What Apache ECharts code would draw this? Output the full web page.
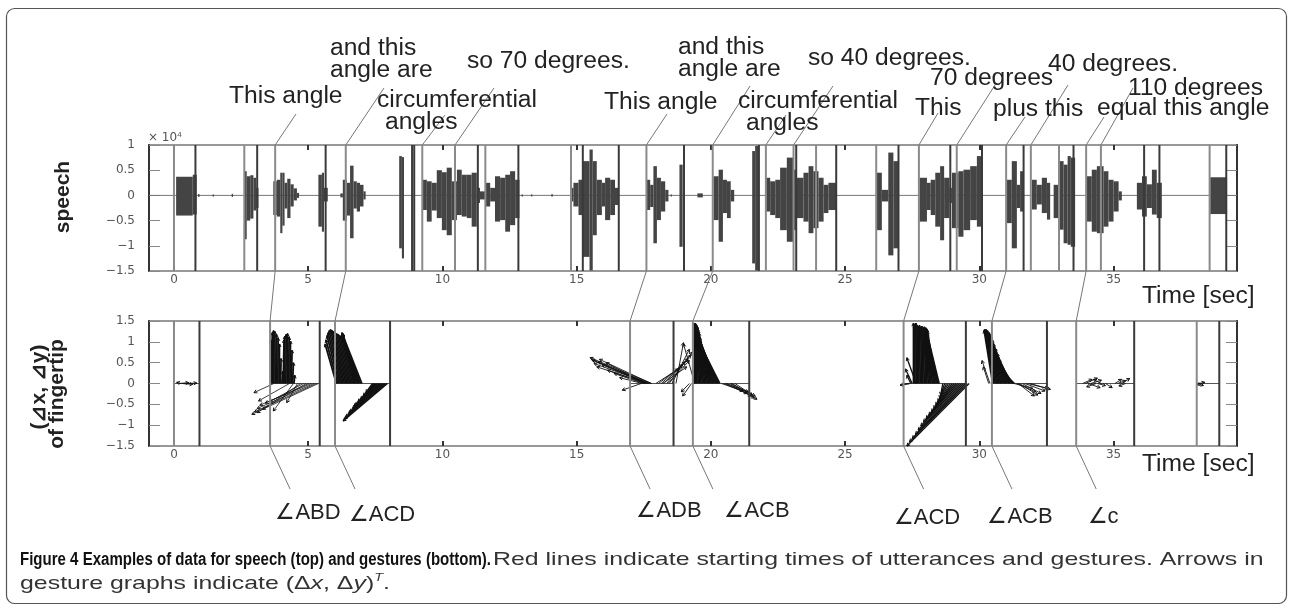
<!DOCTYPE html>
<html>
<head>
<meta charset="utf-8">
<script src="https://cdn.jsdelivr.net/npm/echarts@6/dist/echarts.min.js"></script>
<style>
  html, body { margin: 0; padding: 0; background: #fff; }
  #chart { width: 1292px; height: 610px; }
</style>
</head>
<body>
<div id="chart"></div>
<script>
// ---- data ----
const timeTicks = [0, 5, 10, 15, 20, 25, 30, 35];

// speech amplitude envelope (x 10^4): [tStart, tEnd, max, min]
const speechEnvelope = [
  [0.08, 0.70, 0.37, -0.40], [0.70, 0.85, 0.41, -0.38], [0.90, 0.95, 0.03, -0.03],
  [1.44, 1.49, 0.02, -0.02], [2.15, 2.20, 0.03, -0.03],
  [2.61, 2.71, 0.48, -0.87], [2.71, 2.84, 0.38, -0.50], [2.84, 2.96, 0.40, -0.46],
  [2.96, 3.06, 0.35, -0.30], [3.06, 3.15, 0.15, -0.25],
  [3.70, 3.83, 0.28, -0.39], [3.83, 3.96, 0.31, -0.42], [3.96, 4.04, 0.45, -0.75],
  [4.04, 4.12, 0.45, -0.60], [4.12, 4.22, 0.25, -0.26], [4.22, 4.34, 0.33, -0.45],
  [4.34, 4.46, 0.22, -0.22], [4.46, 4.58, 0.14, -0.10], [4.58, 4.66, 0.05, -0.05],
  [5.38, 5.51, 0.41, -0.62], [5.51, 5.59, 0.45, -0.72], [5.59, 5.73, 0.15, -0.12],
  [6.20, 6.29, 0.04, -0.04],
  [6.29, 6.44, 0.31, -0.50], [6.44, 6.56, 0.25, -0.40], [6.56, 6.69, 0.59, -0.85],
  [6.69, 6.81, 0.28, -0.26], [6.81, 6.93, 0.25, -0.32], [6.93, 7.06, 0.21, -0.22],
  [7.06, 7.14, 0.08, -0.08],
  [8.39, 8.49, 0.78, -1.05], [8.49, 8.57, 0.76, -1.25],
  [9.26, 9.42, 0.31, -0.29], [9.42, 9.60, 0.28, -0.52], [9.60, 9.79, 0.25, -0.30],
  [9.79, 9.98, 0.50, -0.45], [9.98, 10.16, 0.46, -0.69], [10.16, 10.35, 0.55, -0.79],
  [10.35, 10.54, 0.28, -0.49], [10.54, 10.72, 0.51, -0.39], [10.72, 10.91, 0.41, -0.42],
  [10.91, 11.09, 0.41, -0.45], [11.09, 11.28, 0.45, -0.62], [11.28, 11.40, 0.15, -0.15],
  [11.40, 11.59, 0.08, -0.08], [11.59, 11.78, 0.25, -0.22], [11.78, 11.96, 0.15, -0.12],
  [11.96, 12.15, 0.38, -0.52], [12.15, 12.34, 0.35, -0.49], [12.34, 12.52, 0.41, -0.72],
  [12.52, 12.71, 0.48, -0.59], [12.71, 12.87, 0.31, -0.45],
  [12.95, 13.00, 0.02, -0.02], [13.30, 13.35, 0.02, -0.02], [14.05, 14.12, 0.02, -0.02],
  [14.78, 14.88, 0.15, -0.12], [14.88, 15.07, 0.25, -0.22], [15.07, 15.23, 0.31, -0.39],
  [15.23, 15.48, 0.68, -1.22], [15.48, 15.60, 0.91, -1.49], [15.60, 15.75, 0.68, -0.79],
  [15.75, 15.94, 0.31, -0.39], [15.94, 16.06, 0.25, -0.22], [16.06, 16.25, 0.35, -0.49],
  [16.25, 16.43, 0.31, -0.39], [16.43, 16.56, 0.15, -0.19],
  [17.59, 17.74, 0.31, -0.29], [17.74, 17.86, 0.21, -0.23], [17.86, 17.99, 0.58, -0.95],
  [17.99, 18.14, 0.35, -0.49], [18.14, 18.30, 0.28, -0.32], [18.30, 18.42, 0.11, -0.12],
  [18.50, 18.55, 0.02, -0.02],
  [18.83, 18.95, 0.61, -1.02],
  [19.50, 19.70, 0.04, -0.04],
  [20.10, 20.29, 0.38, -0.49], [20.29, 20.45, 0.51, -0.92], [20.45, 20.60, 0.31, -0.35],
  [20.60, 20.74, 0.28, -0.45], [20.74, 20.87, 0.11, -0.12],
  [21.54, 21.65, 0.88, -1.35], [21.65, 21.80, 0.98, -1.49],
  [22.06, 22.21, 0.35, -0.32], [22.21, 22.40, 0.28, -0.39], [22.40, 22.58, 0.31, -0.45],
  [22.58, 22.83, 0.55, -0.69], [22.83, 23.08, 0.75, -0.92], [23.08, 23.20, 0.51, -0.69],
  [23.20, 23.45, 0.35, -0.45], [23.45, 23.64, 0.45, -0.52], [23.64, 23.82, 0.58, -0.75],
  [23.82, 24.01, 0.48, -0.65], [24.01, 24.20, 0.35, -0.52], [24.20, 24.38, 0.21, -0.35],
  [24.38, 24.67, 0.25, -0.29],
  [26.18, 26.37, 0.45, -0.69], [26.37, 26.61, 0.11, -0.12], [26.61, 26.80, 0.85, -1.19],
  [26.80, 26.99, 0.68, -1.05],
  [27.77, 28.05, 0.35, -0.52], [28.05, 28.19, 0.25, -0.29], [28.19, 28.36, 0.31, -0.39],
  [28.36, 28.54, 0.45, -0.62], [28.54, 28.69, 0.58, -0.89], [28.69, 28.89, 0.35, -0.45],
  [28.89, 28.98, 0.15, -0.15], [28.98, 29.22, 0.45, -0.65], [29.22, 29.41, 0.48, -0.82],
  [29.41, 29.66, 0.51, -0.69], [29.66, 29.91, 0.58, -0.49], [29.91, 30.13, 0.78, -0.62],
  [31.03, 31.21, 0.31, -0.55], [31.21, 31.40, 0.68, -1.05], [31.40, 31.52, 0.21, -0.25],
  [31.52, 31.65, 0.48, -0.32],
  [31.96, 32.14, 0.31, -0.28], [32.14, 32.33, 0.21, -0.18], [32.33, 32.52, 0.35, -0.35],
  [32.52, 32.64, 0.25, -0.48],
  [32.77, 32.95, 0.21, -0.45], [32.95, 33.14, 0.68, -0.68], [33.14, 33.29, 0.61, -0.95],
  [33.29, 33.41, 0.78, -0.98], [33.41, 33.57, 0.75, -1.02],
  [34.01, 34.19, 0.38, -0.52], [34.19, 34.38, 0.51, -0.72], [34.38, 34.63, 0.58, -0.75],
  [34.63, 34.81, 0.48, -0.62], [34.81, 35.00, 0.31, -0.52], [35.00, 35.19, 0.28, -0.32],
  [35.19, 35.31, 0.08, -0.10],
  [35.87, 36.06, 0.25, -0.28], [36.06, 36.24, 0.38, -0.42], [36.24, 36.43, 0.22, -0.25],
  [36.43, 36.61, 0.51, -0.38], [36.61, 36.80, 0.25, -0.45],
  [38.60, 39.23, 0.36, -0.37]
];

// utterance start (red in the original) and end times, seconds
const speechStarts = [0.00, 2.62, 3.77, 6.40, 9.25, 10.47, 11.60, 14.79, 17.60, 20.07, 22.05,
  23.08, 23.92, 26.16, 27.75, 29.16, 31.00, 31.92, 32.97, 33.98, 34.53, 38.58];
const speechEnds = [0.80, 3.10, 5.65, 8.87, 8.95, 11.32, 12.83, 15.23, 16.57, 19.00, 21.79,
  23.18, 24.67, 26.99, 28.92, 30.10, 31.65, 33.51, 36.14, 36.71, 39.20];

// gesture start / end times, seconds
const gestureStarts = [0.00, 3.58, 6.00, 16.99, 19.33, 27.18, 30.47, 33.61, 38.10];
const gestureEnds = [0.95, 5.43, 8.05, 18.61, 21.43, 29.50, 32.52, 35.77, 38.94];

// fingertip arrows: [t, t of arrow tip, dy]
const arrowsG1 = [[0.20, 0.55, 0.02], [0.30, 0.70, -0.02], [0.45, 0.85, 0.01], [0.25, 0.10, 0.03]];
const arrowsG2Up = [
  [3.62, 3.62, 1.05], [3.67, 3.66, 1.22], [3.72, 3.71, 1.27], [3.77, 3.76, 1.25],
  [3.82, 3.82, 1.18], [3.87, 3.88, 1.10], [3.92, 3.93, 0.95], [3.97, 3.99, 0.60],
  [4.02, 4.06, 0.30], [4.07, 4.10, 1.05], [4.12, 4.13, 1.14], [4.17, 4.18, 1.18],
  [4.22, 4.23, 1.20], [4.27, 4.29, 1.12], [4.32, 4.34, 1.02], [4.37, 4.40, 0.80],
  [4.42, 4.45, 0.50], [4.47, 4.50, 0.20]
];
const arrowsG2Down = [
  [5.38, 2.90, -0.74], [5.30, 3.00, -0.68], [5.22, 3.10, -0.60], [5.12, 3.20, -0.52],
  [5.02, 3.40, -0.47], [4.92, 3.30, -0.62], [4.82, 3.55, -0.44], [4.72, 3.10, -0.70],
  [4.60, 4.20, -0.46], [4.45, 3.70, -0.66], [4.30, 3.15, -0.42], [3.72, 2.98, -0.22]
];
const arrowsG3Up = [
  [6.05, 5.63, 0.95], [6.10, 5.66, 1.05], [6.15, 5.70, 1.15], [6.20, 5.74, 1.22],
  [6.25, 5.78, 1.27], [6.30, 5.83, 1.30], [6.35, 5.88, 1.28], [6.40, 5.94, 1.25],
  [6.45, 6.00, 1.22], [6.50, 6.06, 1.20], [6.55, 6.12, 1.18], [6.60, 6.18, 1.15],
  [6.65, 6.24, 1.12], [6.70, 6.26, 1.20], [6.75, 6.27, 1.18], [6.80, 6.28, 1.20],
  [6.85, 6.28, 1.15], [6.90, 6.27, 1.20], [6.95, 6.26, 1.18], [7.00, 6.25, 1.22]
];
const arrowsG3Down = [
  [7.95, 6.30, -0.90], [7.90, 6.35, -0.85], [7.85, 6.40, -0.80], [7.80, 6.50, -0.72],
  [7.75, 6.55, -0.68], [7.70, 6.65, -0.60], [7.65, 6.70, -0.55], [7.60, 6.75, -0.52],
  [7.55, 6.85, -0.44], [7.50, 6.95, -0.38], [7.45, 7.05, -0.30], [7.40, 7.15, -0.22]
];
const arrowsG4 = [
  [17.80, 15.50, 0.62], [17.75, 15.60, 0.55], [17.70, 15.65, 0.48], [17.65, 15.75, 0.40],
  [17.78, 15.85, 0.58], [17.60, 15.95, 0.45], [17.55, 16.15, 0.32], [17.50, 16.40, 0.24],
  [17.45, 16.60, 0.14], [17.40, 16.70, -0.16], [17.52, 16.10, 0.50], [17.68, 15.55, 0.58],
  [17.58, 15.80, 0.52],
  [17.95, 18.80, 0.35], [18.05, 18.95, 0.45], [18.15, 19.05, 0.52], [18.25, 19.15, 0.60],
  [18.35, 19.25, 0.68], [18.45, 19.30, 0.75], [18.55, 19.20, 0.82], [18.20, 19.10, 0.40],
  [18.40, 19.20, 0.55], [18.70, 18.98, 0.98]
];
const arrowsG5Up = [
  [19.38, 19.38, 1.45], [19.43, 19.42, 1.45], [19.48, 19.45, 1.42], [19.53, 19.47, 1.40],
  [19.58, 19.48, 1.35], [19.63, 19.48, 1.38], [19.68, 19.50, 1.30], [19.73, 19.50, 1.33],
  [19.78, 19.52, 1.25], [19.83, 19.52, 1.28], [19.88, 19.53, 1.20], [19.93, 19.55, 1.22],
  [19.98, 19.55, 1.15], [20.03, 19.56, 1.12], [20.08, 19.57, 1.10], [20.13, 19.58, 1.05],
  [20.18, 19.55, 1.12], [20.23, 19.55, 1.08], [20.28, 19.56, 1.02], [20.33, 19.55, 1.00]
];
const arrowsG5Side = [
  [20.40, 21.20, -0.18], [20.50, 21.35, -0.24], [20.60, 21.50, -0.30], [20.70, 21.62, -0.35],
  [20.80, 21.72, -0.38], [20.90, 21.55, -0.28], [20.55, 21.40, -0.20], [20.75, 21.65, -0.30],
  [19.40, 18.98, 0.95], [19.28, 18.95, -0.30], [19.20, 18.90, -0.20]
];
const arrowsG6Up = [
  [27.55, 27.55, 1.45], [27.60, 27.60, 1.42], [27.65, 27.64, 1.45], [27.70, 27.68, 1.40],
  [27.75, 27.73, 1.38], [27.80, 27.77, 1.40], [27.85, 27.82, 1.35], [27.90, 27.86, 1.38],
  [27.95, 27.90, 1.33], [28.00, 27.95, 1.36], [28.05, 27.98, 1.30], [28.10, 28.00, 1.34],
  [28.15, 28.02, 1.28], [28.20, 28.03, 1.32], [28.25, 28.04, 1.25], [28.30, 28.05, 1.30],
  [28.35, 28.05, 1.20], [28.40, 28.06, 1.25], [28.45, 28.06, 1.15], [28.50, 28.05, 1.20]
];
const arrowsG6Down = [
  [29.62, 27.30, -1.50], [29.55, 27.40, -1.40], [29.48, 27.50, -1.32], [29.41, 27.62, -1.22],
  [29.34, 27.72, -1.12], [29.27, 27.82, -1.02], [29.20, 27.92, -0.92], [29.13, 28.02, -0.84],
  [29.06, 28.12, -0.76], [28.99, 28.22, -0.68], [28.92, 28.30, -0.60], [28.85, 28.38, -0.52],
  [28.78, 28.46, -0.44], [28.71, 28.52, -0.36], [28.64, 28.56, -0.28],
  [27.65, 27.30, 0.62], [27.50, 27.25, 0.35], [27.45, 27.30, 0.20], [27.40, 27.05, -0.04]
];
const arrowsG7Up = [
  [30.50, 30.18, 1.28], [30.55, 30.20, 1.30], [30.60, 30.22, 1.26], [30.65, 30.25, 1.30],
  [30.70, 30.28, 1.24], [30.75, 30.30, 1.27], [30.80, 30.33, 1.20], [30.85, 30.36, 1.22],
  [30.90, 30.40, 1.15], [30.95, 30.43, 1.10], [31.00, 30.47, 1.05], [31.05, 30.52, 0.95],
  [31.10, 30.58, 0.85], [31.15, 30.65, 0.72], [31.20, 30.72, 0.58], [31.25, 30.80, 0.42],
  [31.30, 30.90, 0.25]
];
const arrowsG7Side = [
  [30.40, 30.10, 0.55], [30.35, 30.15, 0.40],
  [31.30, 32.00, -0.12], [31.40, 32.10, -0.20], [31.50, 32.18, -0.28], [31.60, 32.30, -0.24],
  [31.70, 32.45, -0.18], [31.80, 32.55, -0.12], [31.90, 32.65, -0.14], [31.45, 32.05, -0.30]
];
const arrowsG8 = [
  [33.85, 34.20, 0.10], [33.95, 34.40, 0.13], [34.05, 34.50, -0.10], [34.15, 34.55, 0.08],
  [34.35, 34.00, -0.08], [34.40, 34.70, -0.05], [34.55, 34.25, 0.10], [34.70, 34.95, -0.10],
  [35.05, 35.30, 0.10], [35.15, 35.45, 0.07], [35.30, 35.60, 0.12], [35.45, 35.20, -0.06]
];
const arrowsG9 = [[38.15, 38.35, -0.05], [38.20, 38.40, 0.03], [38.25, 38.10, -0.03]];

// utterance annotations above the speech plot
const noteTexts = ['This angle', 'and this\nangle are', 'circumferential\nangles', 'so 70 degrees.',
  'This angle', 'and this\nangle are', 'circumferential\nangles', 'so 40 degrees.',
  'This', '70 degrees', 'plus this', '40 degrees.', 'equal this angle', '110 degrees'];
const noteTimes = [3.77, 6.40, 9.25, 10.47, 17.60, 20.07, 22.05, 23.08,
  27.75, 29.16, 31.00, 31.92, 33.98, 34.53];

// gesture labels below the gesture plot, with the linked utterance / gesture starts
const angleLabels = ['∠ABD', '∠ACD', '∠ADB', '∠ACB', '∠ACD', '∠ACB', '∠c'];
const linkedSpeech = [3.77, 6.40, 17.60, 20.07, 27.75, 31.00, 33.98];
const linkedGesture = [3.58, 6.00, 16.99, 19.33, 27.18, 30.47, 33.61];

// ---- chart ----
const X_MIN = -0.93, X_MAX = 39.6;
const TICK_FONT = '"DejaVu Sans", sans-serif';
const LABEL_FONT = '"Liberation Sans", Arial, sans-serif';

const chart = echarts.init(document.getElementById('chart'));

function xAxes(gridIndex) {
  const common = {
    type: 'value', gridIndex, min: X_MIN, max: X_MAX,
    splitLine: { show: false },
    axisLine: { show: false, onZero: false },
    axisTick: { inside: true, length: 5, customValues: timeTicks, lineStyle: { color: '#333', width: 2 } }
  };
  return [
    Object.assign({}, common, {
      position: 'bottom',
      axisLabel: { customValues: timeTicks, margin: 3, fontFamily: TICK_FONT, fontSize: 12, color: '#555' }
    }),
    Object.assign({}, common, { position: 'top', axisLabel: { show: false } })
  ];
}

function yAxes(gridIndex, min, max) {
  const common = {
    type: 'value', gridIndex, min, max, interval: 0.5,
    splitLine: { show: false },
    axisLine: { show: true, onZero: false, lineStyle: { color: '#333', width: 2 } },
    axisTick: { inside: true, length: 11, lineStyle: { color: '#888', width: 1 } }
  };
  return [
    Object.assign({}, common, {
      position: 'left',
      axisLabel: {
        margin: 14, fontFamily: TICK_FONT, fontSize: 12, color: '#555',
        formatter: v => String(v).replace('-', '\u2212')
      }
    }),
    Object.assign({}, common, { position: 'right', axisLabel: { show: false } })
  ];
}

function vlines(times, xi, yi, color, width) {
  return {
    type: 'custom', xAxisIndex: xi, yAxisIndex: yi, silent: true, z: 4,
    data: times.map(t => [t]),
    encode: { x: 0 },
    renderItem: (params, api) => {
      const x = api.coord([api.value(0), 0])[0];
      const cs = params.coordSys;
      return {
        type: 'line',
        shape: { x1: x, y1: cs.y, x2: x, y2: cs.y + cs.height },
        style: { stroke: color, lineWidth: width }
      };
    }
  };
}

function arrows(list, width) {
  return {
    type: 'custom', xAxisIndex: 2, yAxisIndex: 2, silent: true, z: 3,
    data: list,
    encode: { x: [0, 1], y: 2 },
    renderItem: (params, api) => {
      const s = api.coord([api.value(0), 0]);
      const e = api.coord([api.value(1), api.value(2)]);
      const a = Math.atan2(e[1] - s[1], e[0] - s[0]);
      const h = 3.5;
      return {
        type: 'group',
        children: [
          { type: 'line', shape: { x1: s[0], y1: s[1], x2: e[0], y2: e[1] },
            style: { stroke: '#111', lineWidth: width } },
          { type: 'polyline',
            shape: { points: [
              [e[0] - h * Math.cos(a - 0.5), e[1] - h * Math.sin(a - 0.5)], e,
              [e[0] - h * Math.cos(a + 0.5), e[1] - h * Math.sin(a + 0.5)]] },
            style: { stroke: '#111', fill: null, lineWidth: 1 } }
        ]
      };
    }
  };
}

chart.setOption({
  animation: false,
  grid: [
    { left: 149, top: 145, width: 1088, height: 126, show: true, borderColor: '#777', borderWidth: 1.5 },
    { left: 149, top: 321, width: 1088, height: 125, show: true, borderColor: '#777', borderWidth: 1.5 }
  ],
  xAxis: [...xAxes(0), ...xAxes(1)],
  yAxis: [...yAxes(0, -1.5, 1), ...yAxes(1, -1.5, 1.5)],
  series: [
    {
      type: 'line', xAxisIndex: 0, yAxisIndex: 0, silent: true, symbol: 'none', z: 1,
      data: [[X_MIN, 0], [X_MAX, 0]],
      lineStyle: { color: '#777', width: 1 }
    },
    {
      type: 'custom', xAxisIndex: 0, yAxisIndex: 0, silent: true, z: 2,
      data: speechEnvelope,
      encode: { x: [0, 1], y: [2, 3] },
      renderItem: (params, api) => {
        const a = api.coord([api.value(0), api.value(2)]);
        const b = api.coord([api.value(1), api.value(3)]);
        return {
          type: 'rect',
          shape: { x: a[0], y: a[1], width: Math.max(b[0] - a[0], 1), height: b[1] - a[1] },
          style: { fill: '#444' }
        };
      }
    },
    vlines(speechStarts, 0, 0, '#8a8a8a', 2),
    vlines(speechEnds, 0, 0, '#3a3a3a', 2),
    {
      type: 'custom', xAxisIndex: 2, yAxisIndex: 2, silent: true, z: 2,
      data: gestureStarts.map((t, i) => [t, gestureEnds[i]]),
      encode: { x: [0, 1] },
      renderItem: (params, api) => {
        const a = api.coord([api.value(0), 0]);
        const b = api.coord([api.value(1), 0]);
        return { type: 'line', shape: { x1: a[0], y1: a[1], x2: b[0], y2: b[1] },
          style: { stroke: '#555', lineWidth: 1 } };
      }
    },
    vlines(gestureStarts, 2, 2, '#8a8a8a', 2),
    vlines(gestureEnds, 2, 2, '#3a3a3a', 2),
    arrows(arrowsG1, 1),
    arrows(arrowsG2Up, 1.8),
    arrows(arrowsG2Down, 0.8),
    arrows(arrowsG3Up, 1.8),
    arrows(arrowsG3Down, 1.6),
    arrows(arrowsG4, 0.9),
    arrows(arrowsG5Up, 1.8),
    arrows(arrowsG5Side, 0.9),
    arrows(arrowsG6Up, 1.8),
    arrows(arrowsG6Down, 1.3),
    arrows(arrowsG7Up, 1.8),
    arrows(arrowsG7Side, 0.9),
    arrows(arrowsG8, 0.9),
    arrows(arrowsG9, 0.9)
  ]
});

// ---- annotations (layout in pixels, anchors from the axes) ----
const px = t => chart.convertToPixel({ xAxisIndex: 0 }, t);
const speechTop = chart.convertToPixel({ yAxisIndex: 0 }, 1);
const speechBottom = chart.convertToPixel({ yAxisIndex: 0 }, -1.5);
const gestTop = chart.convertToPixel({ yAxisIndex: 2 }, 1.5);
const gestBottom = chart.convertToPixel({ yAxisIndex: 2 }, -1.5);

// [left x, first baseline, connector top x, connector top y, second-line indent]
const noteLayout = [
  [229, 105, 296, 114, 0], [330, 57, 384, 88, 0], [377, 109, 445, 115, 8], [467, 70, 494, 88, 0],
  [604, 111, 667, 114, 0], [678, 56, 750, 86, 0], [738, 110, 786, 115, 8], [808, 67, 833, 86, 0],
  [915, 117, 938, 113, 0], [930, 87, 995, 85, 0], [993, 118, 1025, 117, 0], [1048, 73, 1068, 85, 0],
  [1097, 117, 1104, 117, 0], [1128, 97, 1133, 88, 0]
];
const angleLayout = [[308, 513], [382, 515], [669, 511], [757, 511], [927, 518], [1020, 517], [1103, 517]];

const thinLine = (x1, y1, x2, y2) => ({
  type: 'line', silent: true, z: 10, shape: { x1, y1, x2, y2 }, style: { stroke: '#777', lineWidth: 1 }
});
const text = (x, y, str, font, extra) => Object.assign({
  type: 'text', x, y, silent: true, z: 11,
  style: { text: str, font, fill: '#222', align: 'left', verticalAlign: 'middle' }
}, extra || {});

const NOTE_FONT = '23px ' + LABEL_FONT;
const graphics = [
  { type: 'rect', silent: true, shape: { x: 6.5, y: 8.5, width: 1280, height: 595, r: 8 },
    style: { fill: 'none', stroke: '#555', lineWidth: 1.2 } }
];

noteTexts.forEach((s, i) => {
  const [x, base, tx, ty, indent] = noteLayout[i];
  s.split('\n').forEach((line, k) => {
    graphics.push(text(x + (k ? indent : 0), base + k * 22 - 8, line, NOTE_FONT, { scaleX: 1.07 }));
  });
  graphics.push(thinLine(px(noteTimes[i]), speechTop, tx, ty));
});

angleLabels.forEach((s, i) => {
  const xs = px(linkedSpeech[i]);
  const xg = px(linkedGesture[i]);
  graphics.push(thinLine(xs, speechBottom, xg, gestTop));
  graphics.push(thinLine(xg, gestBottom, xg + 20, gestBottom + 43));
  const [cx, cy] = angleLayout[i];
  graphics.push(text(cx, cy, s, '22px ' + LABEL_FONT,
    { style: { text: s, font: '22px ' + LABEL_FONT, fill: '#222', align: 'center', verticalAlign: 'middle' } }));
});

graphics.push(
  text(1142, 297, 'Time [sec]', NOTE_FONT, { scaleX: 1.07 }),
  text(1142, 465, 'Time [sec]', NOTE_FONT, { scaleX: 1.07 }),
  {
    type: 'text', x: 148, y: 138, silent: true,
    style: { text: '× 10{s|4}', font: '12px ' + TICK_FONT, fill: '#555', verticalAlign: 'middle',
      rich: { s: { fontSize: 8, verticalAlign: 'top', fill: '#555', padding: [0, 0, 6, 0] } } }
  },
  { type: 'text', x: 63, y: 197, rotation: Math.PI / 2, silent: true,
    style: { text: 'speech', font: 'bold 21px ' + LABEL_FONT, fill: '#222', align: 'center', verticalAlign: 'middle' } },
  { type: 'text', x: 39, y: 387, rotation: Math.PI / 2, silent: true,
    style: { text: '(⊿x, ⊿y)', font: 'bold 21px ' + LABEL_FONT, fill: '#222', align: 'center', verticalAlign: 'middle' } },
  { type: 'text', x: 57, y: 394, rotation: Math.PI / 2, silent: true,
    style: { text: 'of fingertip', font: 'bold 21px ' + LABEL_FONT, fill: '#222', align: 'center', verticalAlign: 'middle' } },
  { type: 'text', x: 20, y: 560, silent: true, scaleX: 0.835,
    style: { text: 'Figure 4 Examples of data for speech (top) and gestures (bottom).',
      font: 'bold 18px ' + LABEL_FONT, fill: '#111', verticalAlign: 'middle' } },
  { type: 'text', x: 493, y: 560, silent: true, scaleX: 1.31,
    style: { text: 'Red lines indicate starting times of utterances and gestures. Arrows in',
      font: '19px ' + LABEL_FONT, fill: '#333', verticalAlign: 'middle' } },
  { type: 'text', x: 20, y: 584, silent: true, scaleX: 1.31,
    style: { text: 'gesture graphs indicate (Δ{i|x}, Δ{i|y}){sup|T}.',
      font: '19px ' + LABEL_FONT, fill: '#333', verticalAlign: 'middle',
      rich: { i: { fontStyle: 'italic', fontSize: 19, fill: '#333' },
        sup: { fontStyle: 'italic', fontSize: 11, fill: '#333', padding: [0, 0, 12, 0] } } } }
);

chart.setOption({ graphic: graphics });
</script>
</body>
</html>
